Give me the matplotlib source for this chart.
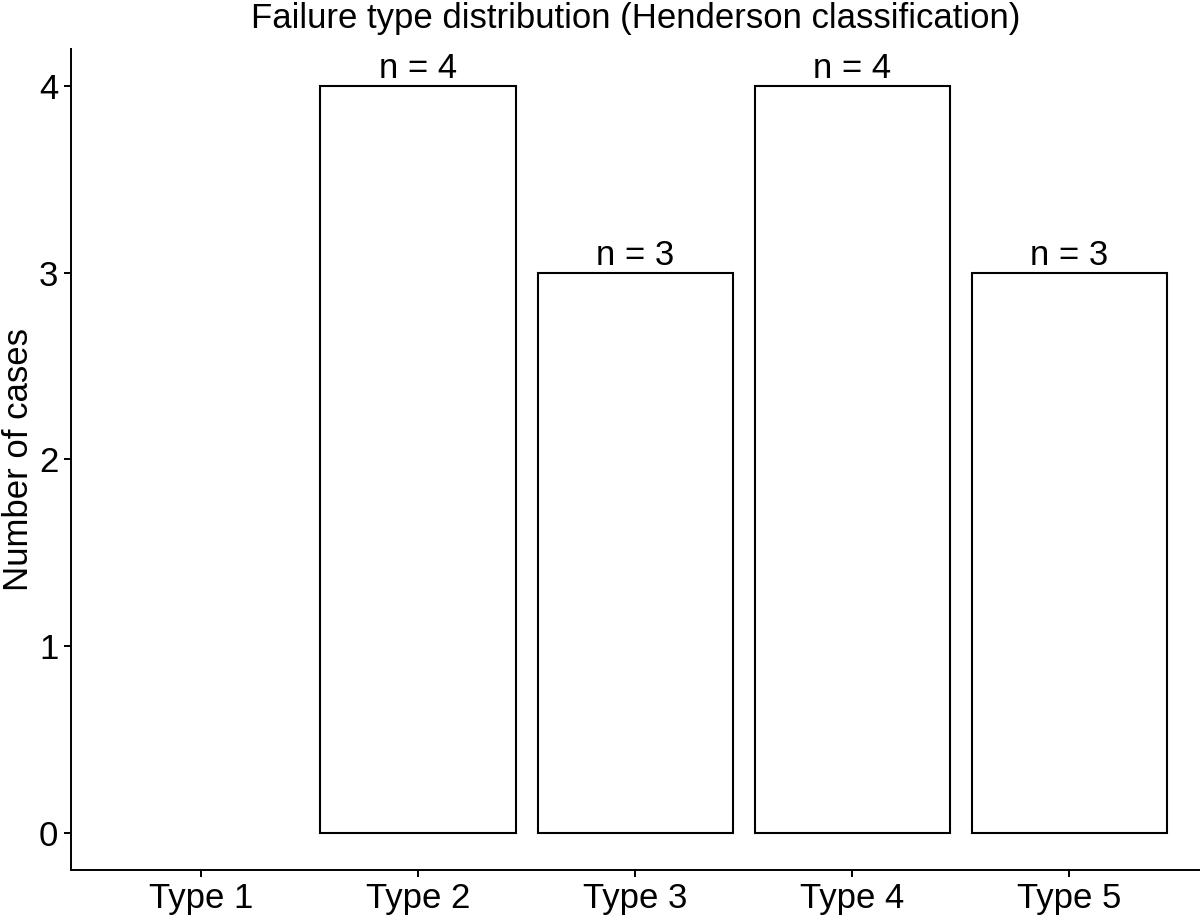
import matplotlib
matplotlib.use("Agg")
import matplotlib.pyplot as plt
import numpy as np

plt.rcParams["font.family"] = ["Liberation Sans", "DejaVu Sans"]

# ---------------------------------------------------------------------------
# Data
# ---------------------------------------------------------------------------

types  = ["Type 1", "Type 2", "Type 3", "Type 4", "Type 5"]
counts = [0, 4, 3, 4, 3]

# ---------------------------------------------------------------------------
# Plot
# ---------------------------------------------------------------------------

fig = plt.figure(figsize=(12, 9.17), dpi=100)
ax = fig.add_axes([0.059, 0.0513, 0.9408, 0.8953])

x = np.arange(1, len(types) + 1)
for xi, c in zip(x, counts):
    if c <= 0:
        continue
    ax.bar(xi, c, width=0.9, facecolor="white", edgecolor="black", linewidth=1.5)
    ax.annotate(f"n = {c}", (xi, c), xytext=(0, 6), textcoords="offset points",
                ha="center", va="baseline", fontsize=25)

ax.set_xlim(0.4, len(types) + 0.6)
ax.set_ylim(-0.2, 4.2)
ax.set_xticks(x)
ax.set_xticklabels(types, fontsize=25)
ax.set_yticks([0, 1, 2, 3, 4])
ax.tick_params(axis="y", labelsize=25, length=5, width=1.4, pad=4)
ax.tick_params(axis="x", length=5, width=1.4, pad=4)
ax.set_ylabel("Number of cases", fontsize=25, labelpad=3)
ax.set_title("Failure type distribution (Henderson classification)", fontsize=25, pad=15)

for side in ("top", "right"):
    ax.spines[side].set_visible(False)
for side in ("left", "bottom"):
    ax.spines[side].set_linewidth(1.4)

fig.savefig("out.png", dpi=100)
